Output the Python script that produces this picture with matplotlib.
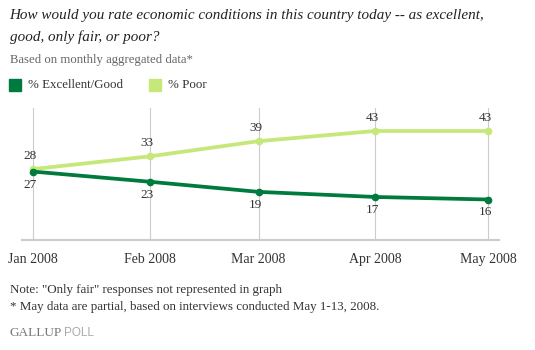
import datetime as dt
import matplotlib
matplotlib.use('Agg')
import matplotlib.pyplot as plt
from matplotlib.patches import Rectangle

months = [dt.date(2008, 1, 1), dt.date(2008, 2, 1), dt.date(2008, 3, 1),
          dt.date(2008, 4, 1), dt.date(2008, 5, 1)]
month_labels = ['Jan 2008', 'Feb 2008', 'Mar 2008', 'Apr 2008', 'May 2008']
excellent_good = [27, 23, 19, 17, 16]
poor = [28, 33, 39, 43, 43]

DARK = '#007A3D'
LIGHT = '#C6E87A'
TXT = '#333333'
SERIF = ['Liberation Serif', 'DejaVu Serif']

plt.rcParams['font.family'] = SERIF

fig = plt.figure(figsize=(5.35, 3.5), dpi=100)
ax = fig.add_axes([0.041, 0.314, 0.892, 0.377])

ax.plot(months, poor, color=LIGHT, lw=2.7, marker='o', ms=4.5, zorder=3)
ax.plot(months, excellent_good, color=DARK, lw=2.7, marker='o', ms=4.5, zorder=4)

# value labels: poor above, excellent/good below
for d, v in zip(months, poor):
    ax.annotate(str(v), (d, v), xytext=(-2, 5), textcoords='offset points',
                ha='center', va='bottom', fontsize=9.5, color=TXT)
for d, v in zip(months, excellent_good):
    ax.annotate(str(v), (d, v), xytext=(-2, -5), textcoords='offset points',
                ha='center', va='top', fontsize=9.5, color=TXT)

ax.set_xlim(dt.date(2008, 1, 1) - dt.timedelta(days=3.8),
            dt.date(2008, 5, 1) + dt.timedelta(days=3.5))
ax.set_ylim(0, 52)
ax.set_xticks(months)
ax.set_xticklabels(month_labels, fontsize=10, color=TXT)
ax.set_yticks([])
ax.tick_params(axis='x', length=0, pad=9)
ax.grid(axis='x', color='#cccccc', lw=0.8)
for s in ['top', 'right', 'left']:
    ax.spines[s].set_visible(False)
ax.spines['bottom'].set_color('#cccccc')
ax.spines['bottom'].set_linewidth(1.5)

# header
fig.text(0.018, 1 - 15 / 350, 'How would you rate economic conditions in this country today -- as excellent,',
         fontsize=10.9, style='italic', color='#222222', va='center')
fig.text(0.018, 1 - 37 / 350, 'good, only fair, or poor?',
         fontsize=10.9, style='italic', color='#222222', va='center')
fig.text(0.018, 1 - 60 / 350, 'Based on monthly aggregated data*',
         fontsize=9.2, color='#666666', va='center')

# legend
for x0, col, lab in [(9, DARK, '% Excellent/Good'), (149, LIGHT, '% Poor')]:
    fig.patches.append(Rectangle((x0 / 535, 1 - 91 / 350), 12 / 535, 12 / 350,
                                 transform=fig.transFigure, color=col))
    fig.text((x0 + 19) / 535, 1 - 85 / 350, lab, fontsize=9.3, color=TXT, va='center')

# footer
fig.text(0.018, 1 - 290 / 350, 'Note: "Only fair" responses not represented in graph',
         fontsize=9.4, color=TXT, va='center')
fig.text(0.018, 1 - 307 / 350, '* May data are partial, based on interviews conducted May 1-13, 2008.',
         fontsize=9.4, color=TXT, va='center')
fig.text(0.018, 1 - 333 / 350, 'GALLUP', fontsize=9.5, color='#777777', va='center')
fig.text(64 / 535, 1 - 333 / 350, 'POLL', fontsize=8.5, color='#aaaaaa', va='center',
         family=['Liberation Sans', 'DejaVu Sans'])

fig.savefig('out.png', dpi=100)
